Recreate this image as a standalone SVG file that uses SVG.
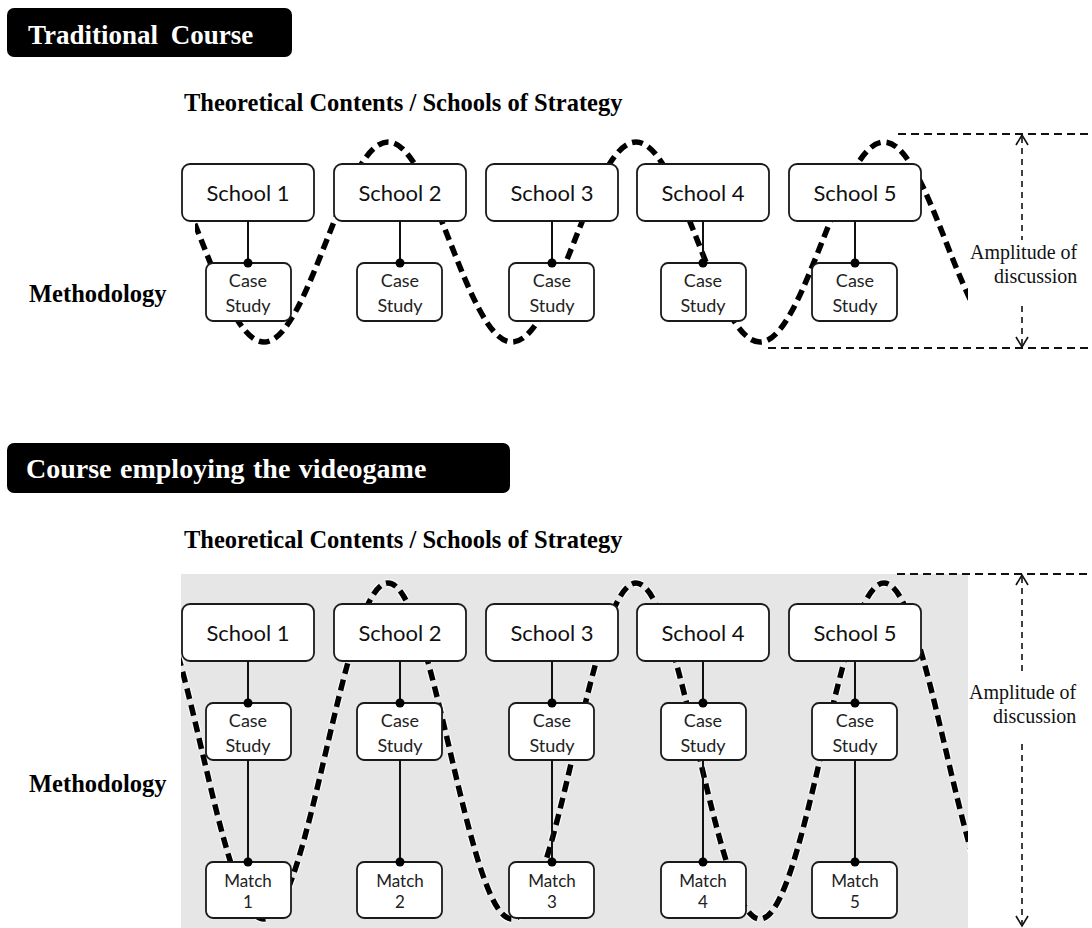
<svg xmlns="http://www.w3.org/2000/svg" width="1092" height="928" viewBox="0 0 1092 928">
<style>
.title{font-family:"Liberation Serif",serif;font-weight:bold;fill:#fff;font-size:27px;word-spacing:6px}
.title2{font-size:28px;word-spacing:1.5px}
.head{font-family:"Liberation Serif",serif;font-weight:bold;fill:#000;font-size:24.5px}
.amp{font-family:"Liberation Serif",serif;fill:#111;font-size:20px}
.school rect{fill:#fff;stroke:#1a1a1a;stroke-width:1.8}
.school text{font-family:Lato,"Open Sans",sans-serif;font-size:22px;fill:#111;text-anchor:middle}
.small rect{fill:#fff;stroke:#1a1a1a;stroke-width:1.8}
.small text{font-family:Lato,"Open Sans",sans-serif;font-size:18px;fill:#222;text-anchor:middle}
.match text{font-size:17px}
.wave{fill:none;stroke:#000;stroke-width:5.5;stroke-dasharray:11 6}
.wavehalo{fill:none;stroke:#fff;stroke-width:8;stroke-dasharray:11 6;opacity:0.8}
.conn line{stroke:#111;stroke-width:2}
.conn circle{fill:#000}
.dim{stroke:#111;stroke-width:2;stroke-dasharray:8 5;fill:none}
.vdim{stroke:#111;stroke-width:1.6;stroke-dasharray:6 5;fill:none}
.chev{stroke:#111;stroke-width:1.6;fill:none}
</style>
<defs>
<clipPath id="c1"><rect x="195" y="100" width="773" height="300"/></clipPath>
<clipPath id="c2"><rect x="181" y="560" width="787" height="368"/></clipPath>
</defs>
<rect width="1092" height="928" fill="#fff"/>

<!-- Section 1 -->
<g id="title1">
<rect x="7" y="8" width="285" height="49" rx="7" fill="#000"/>
<text class="title" x="28" y="44">Traditional Course</text>
</g>
<text class="head" x="184" y="111">Theoretical Contents / Schools of Strategy</text>
<text class="head" x="29" y="302">Methodology</text>

<g id="wave1" clip-path="url(#c1)">
<path class="wave" d="M140,142 C185,142 219,342 264,342 C309,342 343,142 388,142 C433,142 467,342 512,342 C557,342 591,142 636,142 C681,142 715,342 760,342 C805,342 839,142 884,142 C929,142 963,342 1008,342"/>
</g>

<g id="amp1">
<line class="dim" x1="898" y1="134" x2="1092" y2="134"/>
<line class="dim" x1="768" y1="348" x2="1092" y2="348"/>
<line class="vdim" x1="1022" y1="137" x2="1022" y2="240"/>
<line class="vdim" x1="1022" y1="306" x2="1022" y2="346"/>
<polyline class="chev" points="1016,145 1022,135 1028,145"/>
<polyline class="chev" points="1016,337 1022,347 1028,337"/>
<text class="amp" x="970" y="259">Amplitude of</text>
<text class="amp" x="994" y="283">discussion</text>
</g>

<g id="s1-school1" class="school"><rect x="182" y="164" width="132" height="57" rx="8"/><text x="248" y="201">School 1</text></g>
<g id="s1-school2" class="school"><rect x="334" y="164" width="132" height="57" rx="8"/><text x="400" y="201">School 2</text></g>
<g id="s1-school3" class="school"><rect x="486" y="164" width="132" height="57" rx="8"/><text x="552" y="201">School 3</text></g>
<g id="s1-school4" class="school"><rect x="637" y="164" width="132" height="57" rx="8"/><text x="703" y="201">School 4</text></g>
<g id="s1-school5" class="school"><rect x="789" y="164" width="132" height="57" rx="8"/><text x="855" y="201">School 5</text></g>

<g id="s1-case1" class="small"><rect x="206" y="263" width="85" height="58" rx="7"/><text x="248" y="287">Case</text><text x="248" y="312">Study</text></g>
<g id="s1-case2" class="small"><rect x="357" y="263" width="85" height="58" rx="7"/><text x="400" y="287">Case</text><text x="400" y="312">Study</text></g>
<g id="s1-case3" class="small"><rect x="509" y="263" width="85" height="58" rx="7"/><text x="552" y="287">Case</text><text x="552" y="312">Study</text></g>
<g id="s1-case4" class="small"><rect x="661" y="263" width="85" height="58" rx="7"/><text x="703" y="287">Case</text><text x="703" y="312">Study</text></g>
<g id="s1-case5" class="small"><rect x="812" y="263" width="85" height="58" rx="7"/><text x="855" y="287">Case</text><text x="855" y="312">Study</text></g>

<g id="s1-connectors" class="conn">
<line x1="248" y1="221" x2="248" y2="263"/><circle cx="248" cy="263" r="4.5"/>
<line x1="400" y1="221" x2="400" y2="263"/><circle cx="400" cy="263" r="4.5"/>
<line x1="552" y1="221" x2="552" y2="263"/><circle cx="552" cy="263" r="4.5"/>
<line x1="703" y1="221" x2="703" y2="263"/><circle cx="703" cy="263" r="4.5"/>
<line x1="855" y1="221" x2="855" y2="263"/><circle cx="855" cy="263" r="4.5"/>
</g>

<!-- Section 2 -->
<g id="title2">
<rect x="7" y="443" width="503" height="50" rx="7" fill="#000"/>
<text class="title title2" x="26" y="478">Course employing the videogame</text>
</g>
<text class="head" x="184" y="548">Theoretical Contents / Schools of Strategy</text>
<text class="head" x="29" y="792">Methodology</text>

<rect id="bg2" x="181" y="574" width="787" height="354" fill="#e6e6e6"/>

<g id="wave2" clip-path="url(#c2)">
<path class="wavehalo" d="M140,583 C185,583 219,919 264,919 C309,919 343,583 388,583 C433,583 467,919 512,919 C557,919 591,583 636,583 C681,583 715,919 760,919 C805,919 839,583 884,583 C929,583 963,919 1008,919"/>
<path class="wave" d="M140,583 C185,583 219,919 264,919 C309,919 343,583 388,583 C433,583 467,919 512,919 C557,919 591,583 636,583 C681,583 715,919 760,919 C805,919 839,583 884,583 C929,583 963,919 1008,919"/>
</g>

<g id="amp2">
<line class="dim" x1="897" y1="574" x2="1092" y2="574"/>
<line class="vdim" x1="1022" y1="577" x2="1022" y2="676"/>
<line class="vdim" x1="1022" y1="744" x2="1022" y2="924"/>
<polyline class="chev" points="1016,585 1022,575 1028,585"/>
<polyline class="chev" points="1016,916 1022,926 1028,916"/>
<text class="amp" x="969" y="699">Amplitude of</text>
<text class="amp" x="993" y="723">discussion</text>
</g>

<g id="s2-school1" class="school"><rect x="182" y="604" width="132" height="57" rx="8"/><text x="248" y="641">School 1</text></g>
<g id="s2-school2" class="school"><rect x="334" y="604" width="132" height="57" rx="8"/><text x="400" y="641">School 2</text></g>
<g id="s2-school3" class="school"><rect x="486" y="604" width="132" height="57" rx="8"/><text x="552" y="641">School 3</text></g>
<g id="s2-school4" class="school"><rect x="637" y="604" width="132" height="57" rx="8"/><text x="703" y="641">School 4</text></g>
<g id="s2-school5" class="school"><rect x="789" y="604" width="132" height="57" rx="8"/><text x="855" y="641">School 5</text></g>

<g id="s2-case1" class="small"><rect x="206" y="703" width="85" height="57" rx="7"/><text x="248" y="727">Case</text><text x="248" y="752">Study</text></g>
<g id="s2-case2" class="small"><rect x="357" y="703" width="85" height="57" rx="7"/><text x="400" y="727">Case</text><text x="400" y="752">Study</text></g>
<g id="s2-case3" class="small"><rect x="509" y="703" width="85" height="57" rx="7"/><text x="552" y="727">Case</text><text x="552" y="752">Study</text></g>
<g id="s2-case4" class="small"><rect x="661" y="703" width="85" height="57" rx="7"/><text x="703" y="727">Case</text><text x="703" y="752">Study</text></g>
<g id="s2-case5" class="small"><rect x="812" y="703" width="85" height="57" rx="7"/><text x="855" y="727">Case</text><text x="855" y="752">Study</text></g>

<g id="s2-match1" class="small match"><rect x="206" y="862" width="85" height="56" rx="7"/><text x="248" y="887">Match</text><text x="248" y="908">1</text></g>
<g id="s2-match2" class="small match"><rect x="357" y="862" width="85" height="56" rx="7"/><text x="400" y="887">Match</text><text x="400" y="908">2</text></g>
<g id="s2-match3" class="small match"><rect x="509" y="862" width="85" height="56" rx="7"/><text x="552" y="887">Match</text><text x="552" y="908">3</text></g>
<g id="s2-match4" class="small match"><rect x="661" y="862" width="85" height="56" rx="7"/><text x="703" y="887">Match</text><text x="703" y="908">4</text></g>
<g id="s2-match5" class="small match"><rect x="812" y="862" width="85" height="56" rx="7"/><text x="855" y="887">Match</text><text x="855" y="908">5</text></g>

<g id="s2-connectors" class="conn">
<line x1="248" y1="661" x2="248" y2="703"/><circle cx="248" cy="703" r="4.5"/>
<line x1="400" y1="661" x2="400" y2="703"/><circle cx="400" cy="703" r="4.5"/>
<line x1="552" y1="661" x2="552" y2="703"/><circle cx="552" cy="703" r="4.5"/>
<line x1="703" y1="661" x2="703" y2="703"/><circle cx="703" cy="703" r="4.5"/>
<line x1="855" y1="661" x2="855" y2="703"/><circle cx="855" cy="703" r="4.5"/>
<line x1="248" y1="760" x2="248" y2="862"/><circle cx="248" cy="862" r="4.5"/>
<line x1="400" y1="760" x2="400" y2="862"/><circle cx="400" cy="862" r="4.5"/>
<line x1="552" y1="760" x2="552" y2="862"/><circle cx="552" cy="862" r="4.5"/>
<line x1="703" y1="760" x2="703" y2="862"/><circle cx="703" cy="862" r="4.5"/>
<line x1="855" y1="760" x2="855" y2="862"/><circle cx="855" cy="862" r="4.5"/>
</g>
</svg>
